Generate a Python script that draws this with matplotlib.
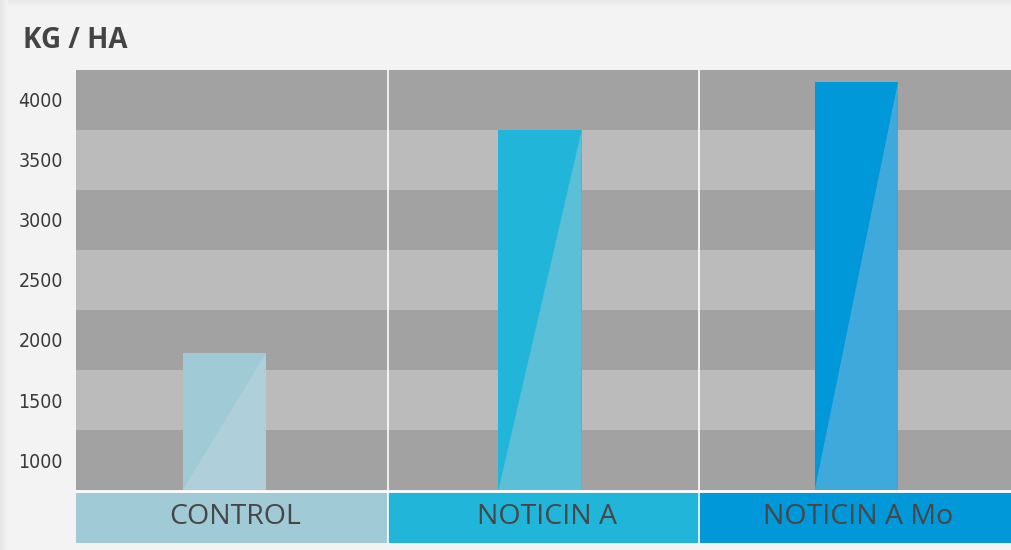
import matplotlib.pyplot as plt
from matplotlib.patches import Polygon, Rectangle
from matplotlib import font_manager

categories = ["CONTROL", "NOTICIN A", "NOTICIN A Mo"]
values = [1890, 3750, 4150]
bar_colors = ["#a1cad7", "#21b6d9", "#0098d8"]
shine_colors = ["#afd0da", "#5bbfd7", "#40a9db"]
yticks = [1000, 1500, 2000, 2500, 3000, 3500, 4000]
ymin, ymax = 750, 4250

W, H = 1011, 550
fig = plt.figure(figsize=(W / 100, H / 100), dpi=100)
fig.patch.set_facecolor("#f3f3f3")

# soft panel shadow on top / left
for k in range(8):
    a = 0.05 * (8 - k) / 8
    fig.add_artist(Rectangle((k / W, 0), 1 / W, 1, transform=fig.transFigure,
                             color="black", alpha=a, lw=0, zorder=0))
for k in range(6):
    a = 0.04 * (6 - k) / 6
    fig.add_artist(Rectangle((8 / W, 1 - (k + 1) / H), 1, 1 / H, transform=fig.transFigure,
                             color="black", alpha=a, lw=0, zorder=0))

left, right = 76 / W, 1.0
ax = fig.add_axes([left, (H - 490) / H, right - left, 420 / H])
bx = fig.add_axes([left, (H - 543) / H, right - left, 52 / H])

# stripes
y = ymin
i = 0
while y < ymax:
    ax.axhspan(y, y + 500, color="#a2a2a2" if i % 2 == 0 else "#bbbbbb", lw=0, zorder=0)
    y += 500
    i += 1

n = len(categories)
slots = range(n)
bar_pos = [k + 0.5 + off for k, off in zip(slots, [-0.024, -0.011, 0.004])]
bw = 0.267
ax.bar(bar_pos, [v - ymin for v in values], bottom=ymin, width=bw, color=bar_colors,
       lw=0, zorder=2)
for x, v, c in zip(bar_pos, values, shine_colors):
    x0, x1 = x - bw / 2, x + bw / 2
    ax.add_patch(Polygon([(x0, ymin), (x1, v), (x1, ymin)], closed=True,
                         color=c, lw=0, zorder=3))

for k in range(1, n):
    ax.axvline(k, color="white", lw=1.2, zorder=1)

tick_font = font_manager.FontProperties(family="DejaVu Sans", stretch="condensed", size=14)
ax.set_xlim(0, n)
ax.set_ylim(ymin, ymax)
ax.set_xticks([])
ax.set_yticks(yticks)
ax.set_yticklabels([str(t) for t in yticks], fontproperties=tick_font, color="#3a3a3a")
ax.tick_params(axis="y", length=0, pad=9.5)
for s in ax.spines.values():
    s.set_visible(False)

# category band below the plot
centers = [k + 0.5 for k in slots]
bx.bar(centers, [1] * n, width=1.0, color=bar_colors, lw=0)
for k in range(1, n):
    bx.axvline(k, color="white", lw=1.2)
bx.axhline(1, color="white", lw=2)
for x, lab in zip(centers, categories):
    bx.text(x + 0.01, 0.5, lab, ha="center", va="center", fontsize=20.5,
            family="Open Sans", color="#474747")
bx.set_xlim(0, n)
bx.set_ylim(0, 1)
bx.axis("off")

fig.text(23 / W, 1 - 41 / H, "KG / HA", fontsize=20, fontweight="bold",
         family="Open Sans", color="#444444", va="center", ha="left")

fig.savefig("out.png", dpi=100, facecolor=fig.get_facecolor())
